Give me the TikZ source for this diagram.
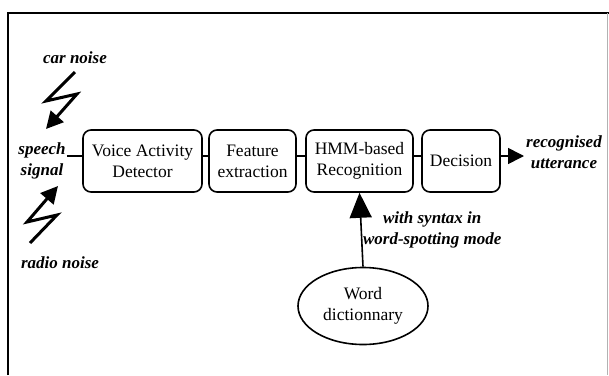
\documentclass[tikz,border=0pt]{standalone}
\usepackage{fontspec}
\setmainfont{Liberation Serif}
\usepackage{tikz}
\usetikzlibrary{shapes,arrows,positioning,fit,calc,arrows.meta}

\begin{document}
\begin{tikzpicture}[x=1pt,y=-1pt,
    bloc/.style={draw, line width=1.6pt, rounded corners=8pt, minimum height=62pt,
        align=center, inner sep=2pt, font=\fontsize{17.5}{21}\selectfont},
    lab/.style={align=center, inner sep=1pt, font=\fontsize{17}{21}\selectfont\bfseries\itshape},
    fil/.style={line width=1.6pt},
    eclair/.style={line width=3pt, -{Triangle[length=17pt,width=17pt]}}]
    \useasboundingbox (0,0) rectangle (609,375);
    % cadre
    \draw[line width=2pt] (8,375) -- (8,13) -- (609,13);
    \draw[gray!60, line width=0.8pt] (607,13) -- (607,375);

    % chaine de traitement
    \node[bloc, minimum width=119pt] (vad) at (142.5,161) {Voice Activity\\Detector};
    \node[bloc, minimum width=87pt] (feat) at (252.5,161) {Feature\\extraction};
    \node[bloc, minimum width=107pt] (hmm) at (359.5,161) {HMM-based\\Recognition};
    \node[bloc, minimum width=78pt] (dec) at (461,161) {Decision};
    \node[draw, ellipse, line width=1.6pt, minimum width=130pt, minimum height=77pt,
        align=center, inner sep=0pt, font=\fontsize{17.5}{21}\selectfont] (dict) at (363,306) {Word\\dictionnary};

    % textes
    \node[lab] (speech) at (42,161) {speech\\signal};
    \node[lab] (car) at (75,58) {car noise};
    \node[lab] (radio) at (60,263) {radio noise};
    \node[lab] (utt) at (564,152) {recognised\\utterance};
    \coordinate (out) at (524,156);

    % liaisons
    \draw[fil] ([yshift=5pt]speech.east) -- ([yshift=5pt]vad.west);
    \draw[fil] ([yshift=5pt]vad.east) -- ([yshift=5pt]feat.west);
    \draw[fil] ([yshift=5pt]feat.east) -- ([yshift=5pt]hmm.west);
    \draw[fil] ([yshift=5pt]hmm.east) -- ([yshift=5pt]dec.west);
    \draw[fil, -{Triangle[length=16pt,width=16pt]}] ([yshift=5pt]dec.east) -- (out);
    \draw[fil, -{Triangle[length=25pt,width=22pt]}] (dict.north) -- (hmm.south)
        node[lab, midway, right] (syn) {with syntax in\\word-spotting mode};

    % bruits
    \coordinate (c0) at (75,72);
    \coordinate (c1) at (46,101);
    \coordinate (c2) at (77,94);
    \coordinate (c3) at (46,129);
    \draw[eclair] (c0) -- (c1) -- (c2) -- (c3);
    \coordinate (r0) at (30,243);
    \coordinate (r1) at (57,215);
    \coordinate (r2) at (27,222);
    \coordinate (r3) at (58,186);
    \draw[eclair] (r0) -- (r1) -- (r2) -- (r3);
\end{tikzpicture}
\end{document}
